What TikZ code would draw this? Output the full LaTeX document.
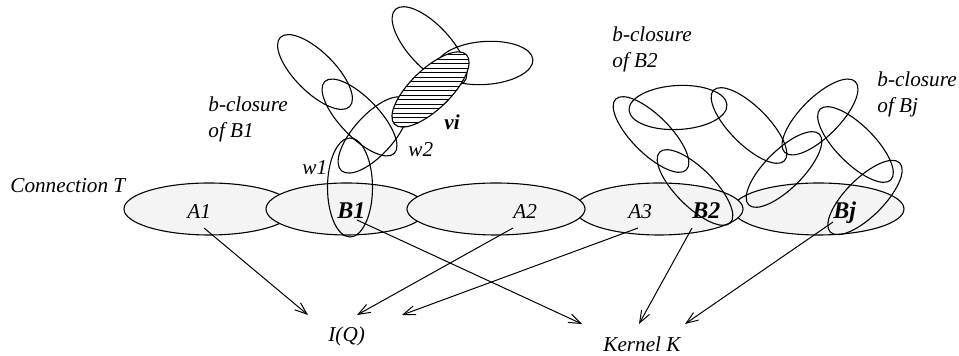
\documentclass[tikz,border=0pt]{standalone}
\usepackage{fontspec}
\setmainfont{Liberation Serif}
\usetikzlibrary{arrows.meta}
\definecolor{basefill}{RGB}{244,244,244}
\tikzset{
  outl/.style={draw=black, line width=0.55pt},
  lbl/.style={inner sep=0pt, anchor=base west, font=\fontsize{10.6}{12}\selectfont\itshape},
  blbl/.style={inner sep=0pt, anchor=base west, font=\fontsize{12}{14}\selectfont\bfseries\itshape},
  vlbl/.style={inner sep=0pt, anchor=base west, font=\fontsize{10.6}{12}\selectfont\bfseries\itshape},
  conn/.style={line width=0.5pt, -{Straight Barb[length=6pt,width=4.5pt,line width=0.5pt]}},
}
\begin{document}
\begin{tikzpicture}[x=0.5pt,y=-0.5pt]
\useasboundingbox (0,0) rectangle (959,356);
% base ellipses, stacked: A1, B1, Bj, A3/B2, A2
\foreach \cx/\rx in {209/85, 346.5/80.5, 818.5/85.5, 659/84, 496/89}
  \draw[outl, fill=basefill] (\cx,209) ellipse [x radius=\rx, y radius=26];
% b-closure of B1
\draw[outl] (350,187.5) ellipse [x radius=22.5, y radius=49.5];
\draw[outl, rotate around={-45:(315,72)}] (315,72) ellipse [x radius=49, y radius=20];
\draw[outl, rotate around={-46:(359.5,117.5)}] (359.5,117.5) ellipse [x radius=50, y radius=19.5];
\draw[outl, rotate around={48:(373.5,135)}] (373.5,135) ellipse [x radius=48, y radius=20];
\draw[outl, rotate around={-47:(429.5,46)}] (429.5,46) ellipse [x radius=50, y radius=21];
\draw[outl, rotate around={4:(485,63)}] (485,63) ellipse [x radius=48, y radius=21.5];
% hatched vi
\begin{scope}
  \clip[rotate around={44:(430.5,89.5)}] (430.5,89.5) ellipse [x radius=50, y radius=20];
  \fill[white] (370,40) rectangle (490,140);
  \foreach \yy in {41,45.5,...,140}
    \draw[line width=0.45pt] (370,\yy) -- (490,\yy);
\end{scope}
\draw[outl, rotate around={44:(430.5,89.5)}] (430.5,89.5) ellipse [x radius=50, y radius=20];
% b-closure of B2 and Bj
\draw[outl, rotate around={3:(678,107.5)}] (678,107.5) ellipse [x radius=49, y radius=22];
\draw[outl, rotate around={-45:(651,134.5)}] (651,134.5) ellipse [x radius=50, y radius=19];
\draw[outl, rotate around={-45:(695,187.5)}] (695,187.5) ellipse [x radius=50, y radius=19];
\draw[outl, rotate around={-45:(749,125.5)}] (749,125.5) ellipse [x radius=50, y radius=19];
\draw[outl, rotate around={45:(784,169.5)}] (784,169.5) ellipse [x radius=50, y radius=19];
\draw[outl, rotate around={45:(820,117)}] (820,117) ellipse [x radius=50, y radius=19.5];
\draw[outl, rotate around={-45:(855.5,144.5)}] (855.5,144.5) ellipse [x radius=50, y radius=19];
\draw[outl, rotate around={45:(865,197.5)}] (865,197.5) ellipse [x radius=49, y radius=19];
% labels
\node[lbl] (conT) at (10,193) {Connection T};
\node[lbl] (bc1a) at (208,112) {b-closure};
\node[lbl] (bc1b) at (208,138) {of B1};
\node[lbl] (bc2a) at (612,42) {b-closure};
\node[lbl] (bc2b) at (612,68) {of B2};
\node[lbl] (bcja) at (877,87) {b-closure};
\node[lbl] (bcjb) at (877,113) {of Bj};
\node[lbl] (w1) at (302,175) {w1};
\node[lbl] (w2) at (408,157) {w2};
\node[vlbl] (vi) at (444,130) {vi};
\node[lbl] (A1) at (187,219) {A1};
\node[blbl] (B1) at (337,219) {B1};
\node[lbl] (A2) at (513,219) {A2};
\node[lbl] (A3) at (628,219) {A3};
\node[blbl] (B2) at (692,219) {B2};
\node[blbl] (Bj) at (833,219) {Bj};
\node[lbl] (IQ) at (328,342) {I(Q)};
\node[lbl] (KK) at (603,352) {Kernel K};
% connector ends
\coordinate (sA1) at (204,228);
\coordinate (sB1) at (357,220);
\coordinate (sA2) at (513,228);
\coordinate (sA3) at (638,228);
\coordinate (sB2) at (692,228);
\coordinate (sBj) at (833,222);
\coordinate (iq1) at (308,315);
\coordinate (iq2) at (357,315);
\coordinate (iq3) at (402,315);
\coordinate (kk1) at (582,324);
\coordinate (kk2) at (639,324);
\coordinate (kk3) at (685,324);
\draw[conn] (sA1) -- (iq1);
\draw[conn] (sA2) -- (iq2);
\draw[conn] (sA3) -- (iq3);
\draw[conn] (sB1) -- (kk1);
\draw[conn] (sB2) -- (kk2);
\draw[conn] (sBj) -- (kk3);
\end{tikzpicture}
\end{document}
